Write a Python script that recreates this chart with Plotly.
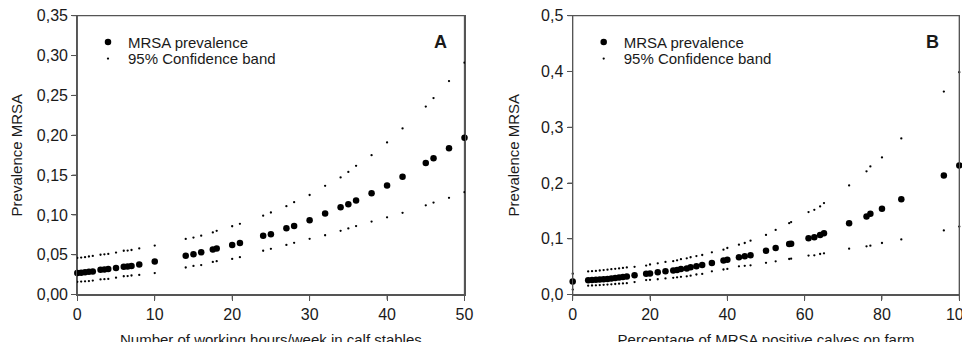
import plotly.graph_objects as go

# ---------------- Panel A data ----------------
hours = [0, 0.5, 1, 1.5, 2, 3, 3.5, 4, 5, 6, 6.5, 7, 8, 10, 14, 15, 16, 17.5, 18, 20, 21,
         24, 25, 27, 28, 30, 32, 34, 35, 36, 38, 40, 42, 45, 46, 48, 50]
prevA = [0.0272, 0.0275, 0.0282, 0.0287, 0.029, 0.0311, 0.0316, 0.032, 0.0335, 0.0348, 0.0352,
         0.036, 0.0377, 0.0414, 0.0486, 0.0507, 0.053, 0.0565, 0.0578, 0.0624, 0.0649,
         0.074, 0.0758, 0.0833, 0.0862, 0.0934, 0.1017, 0.1097, 0.1135, 0.118, 0.1273,
         0.1369, 0.1478, 0.165, 0.171, 0.1838, 0.1968]
upperA = [0.046, 0.0465, 0.047, 0.0478, 0.0485, 0.050, 0.0505, 0.051, 0.0527, 0.055, 0.0553,
          0.056, 0.058, 0.0615, 0.0699, 0.0716, 0.074, 0.078, 0.080, 0.0858, 0.0888,
          0.099, 0.103, 0.111, 0.116, 0.125, 0.1365, 0.147, 0.154, 0.1616, 0.175,
          0.191, 0.2085, 0.236, 0.2466, 0.268, 0.291]
lowerA = [0.016, 0.0163, 0.0167, 0.017, 0.0176, 0.019, 0.0194, 0.0197, 0.0213, 0.023, 0.0233,
          0.024, 0.0247, 0.027, 0.034, 0.036, 0.037, 0.041, 0.042, 0.0448, 0.047,
          0.055, 0.0574, 0.0624, 0.065, 0.070, 0.0745, 0.080, 0.083, 0.086, 0.0917,
          0.097, 0.1026, 0.112, 0.1155, 0.1214, 0.1285]

# ---------------- Panel B data ----------------
pct_calves = [0, 4, 5, 6, 7, 8, 9, 10, 11, 12, 13, 14, 16, 19, 20, 22, 24, 26, 27, 28, 29.5,
              30.5, 32, 33.5, 36, 39, 40, 43, 44.5, 46, 50, 52.5, 56, 56.5, 61, 62.5, 64, 65,
              71.5, 76, 77, 80, 85, 96, 100]
prevB = [0.0233, 0.0257, 0.026, 0.0265, 0.027, 0.0275, 0.028, 0.029, 0.0298, 0.0305, 0.0315,
         0.0325, 0.0346, 0.0376, 0.038, 0.040, 0.0417, 0.043, 0.044, 0.0458, 0.047,
         0.049, 0.051, 0.053, 0.0567, 0.061, 0.0627, 0.0668, 0.0686, 0.0704, 0.0788, 0.0835,
         0.0907, 0.0913, 0.1008, 0.1026, 0.107, 0.110, 0.1277, 0.140, 0.145, 0.154, 0.171,
         0.2136, 0.2315]
upperB = [0.0376, 0.0415, 0.042, 0.0425, 0.0432, 0.044, 0.0447, 0.0455, 0.0462, 0.047, 0.0478,
          0.0487, 0.0498, 0.052, 0.054, 0.056, 0.0585, 0.060, 0.0615, 0.0635, 0.065,
          0.067, 0.069, 0.071, 0.0758, 0.0805, 0.0835, 0.0895, 0.0925, 0.0967, 0.107, 0.116,
          0.128, 0.130, 0.148, 0.152, 0.158, 0.164, 0.1957, 0.221, 0.2297, 0.246, 0.280,
          0.364, 0.3986]
lowerB = [0.009, 0.016, 0.0163, 0.0167, 0.017, 0.0175, 0.018, 0.0185, 0.019, 0.0195, 0.020,
          0.0205, 0.0225, 0.026, 0.0265, 0.0275, 0.029, 0.030, 0.031, 0.0318, 0.0328,
          0.034, 0.036, 0.037, 0.0418, 0.045, 0.046, 0.0507, 0.0515, 0.0525, 0.057, 0.0597,
          0.0638, 0.0644, 0.070, 0.0704, 0.0728, 0.074, 0.0823, 0.0865, 0.0877, 0.0925, 0.099,
          0.115, 0.122]

ticksA_x = [0, 10, 20, 30, 40, 50]
ticksA_y = [0, 0.05, 0.10, 0.15, 0.20, 0.25, 0.30, 0.35]
ticksB_x = [0, 20, 40, 60, 80, 100]
ticksB_y = [0, 0.1, 0.2, 0.3, 0.4, 0.5]

FONT = "Liberation Sans, Arial, sans-serif"
FS = 15
TICK_FS = 16
TXT = "#1a1a1a"
AX = "#555555"
BIG = 6.5
SMALL = 2.3
TICKLEN = 5

# The page body adds an 8px margin; the figure keeps the full 970x342 size
# and everything is placed 8px up/left so it lands where the reference has it.
OFF = 8
W, H = 970, 342
def px(v): return (v - OFF) / W
def py(v): return 1 - (v - OFF) / H

A_LEFT, A_RIGHT = 77.3, 464.5
B_LEFT, B_RIGHT = 572.7, 959.3
P_TOP, P_BOT = 15.7, 294.6

fig = go.Figure()

def add_panel(x, main, up, lo, xa, ya, leg_main, leg_band):
    fig.add_trace(go.Scatter(x=x, y=main, mode="markers", name="MRSA prevalence",
                             marker=dict(color="black", size=BIG), xaxis=xa, yaxis=ya,
                             legend=leg_main, cliponaxis=False))
    fig.add_trace(go.Scatter(x=x, y=up, mode="markers", name="95% Confidence band",
                             marker=dict(color="black", size=SMALL), xaxis=xa, yaxis=ya,
                             legend=leg_band, legendgroup=leg_band, cliponaxis=False))
    fig.add_trace(go.Scatter(x=x, y=lo, mode="markers", name="95% Confidence band",
                             marker=dict(color="black", size=SMALL), xaxis=xa, yaxis=ya,
                             legend=leg_band, legendgroup=leg_band, showlegend=False,
                             cliponaxis=False))

add_panel(hours, prevA, upperA, lowerA, "x", "y", "legend", "legend3")
add_panel(pct_calves, prevB, upperB, lowerB, "x2", "y2", "legend2", "legend4")

axis_common = dict(showline=True, linecolor=AX, linewidth=1.3, mirror=True,
                   ticks="outside", ticklen=TICKLEN, tickcolor=AX, tickwidth=1,
                   showgrid=False, zeroline=False,
                   tickfont=dict(family=FONT, size=TICK_FS, color=TXT),
                   ticklabeloverflow="allow",
                   automargin=False)

# frame and tick marks also as shapes tied to the axes
shapes = []
def frame_and_ticks(xref, yref, xticks, yticks, width_px, height_px):
    shapes.append(dict(type="rect", xref=f"{xref} domain", yref=f"{yref} domain",
                       x0=0, x1=1, y0=0, y1=1, line=dict(color=AX, width=1.3),
                       fillcolor="rgba(0,0,0,0)", layer="below"))
    for v in xticks:
        shapes.append(dict(type="line", xref=xref, yref=f"{yref} domain",
                           x0=v, x1=v, y0=0, y1=-TICKLEN / height_px,
                           line=dict(color=AX, width=1)))
    for v in yticks:
        shapes.append(dict(type="line", xref=f"{xref} domain", yref=yref,
                           x0=0, x1=-TICKLEN / width_px, y0=v, y1=v,
                           line=dict(color=AX, width=1)))

frame_and_ticks("x", "y", ticksA_x, ticksA_y, A_RIGHT - A_LEFT, P_BOT - P_TOP)
frame_and_ticks("x2", "y2", ticksB_x, ticksB_y, B_RIGHT - B_LEFT, P_BOT - P_TOP)

def leg(xs, row_center):
    # legend box top sits ~15px above the row centre
    return dict(x=px(xs), y=py(row_center - 15), xanchor="left", yanchor="top",
                bgcolor="rgba(0,0,0,0)", font=dict(family=FONT, size=FS, color=TXT),
                itemsizing="trace", tracegroupgap=0, itemwidth=30)

title_font = dict(family=FONT, size=FS, color=TXT)
Y_DOM = [py(P_BOT), py(P_TOP)]

fig.update_layout(
    width=W, height=H,
    margin=dict(l=0, r=0, t=0, b=0),
    paper_bgcolor="white", plot_bgcolor="white",
    separators=", ",
    font=dict(family=FONT, size=FS, color=TXT),
    xaxis=dict(domain=[px(A_LEFT), px(A_RIGHT)], range=[0, 50], tickvals=ticksA_x,
               title=dict(text="Number of working hours/week in calf stables",
                          font=title_font, standoff=12),
               anchor="y", **axis_common),
    yaxis=dict(domain=Y_DOM, range=[0, 0.35], tickvals=ticksA_y,
               tickformat=".2f",
               title=dict(text="Prevalence MRSA", font=title_font, standoff=17),
               anchor="x", **axis_common),
    xaxis2=dict(domain=[px(B_LEFT), px(B_RIGHT)], range=[0, 100], tickvals=ticksB_x,
                title=dict(text="Percentage of MRSA positive calves on farm",
                           font=title_font, standoff=12),
                anchor="y2", **axis_common),
    yaxis2=dict(domain=Y_DOM, range=[0, 0.5], tickvals=ticksB_y,
                tickformat=".1f",
                title=dict(text="Prevalence MRSA", font=title_font, standoff=17),
                anchor="x2", **axis_common),
    legend=leg(88, 40.7),
    legend3=leg(88, 57.3),
    legend2=leg(88 + 495.7, 40.7),
    legend4=leg(88 + 495.7, 57.3),
    showlegend=True,
    shapes=shapes,
    annotations=[
        dict(text="<b>A</b>", x=px(440), y=py(41.5), xref="paper", yref="paper",
             xanchor="center", yanchor="middle",
             showarrow=False, font=dict(family=FONT, size=18, color=TXT)),
        dict(text="<b>B</b>", x=px(932), y=py(41.5), xref="paper", yref="paper",
             xanchor="center", yanchor="middle",
             showarrow=False, font=dict(family=FONT, size=18, color=TXT)),
    ],
)

fig.write_html("out.html")
